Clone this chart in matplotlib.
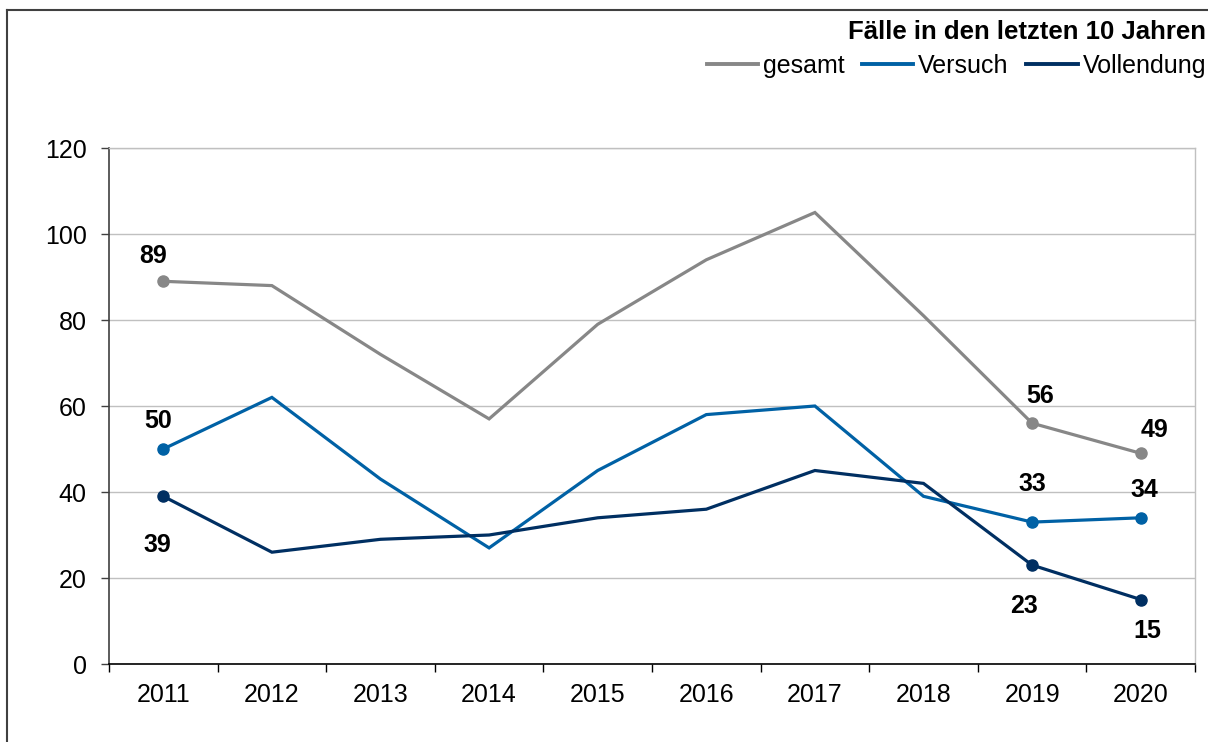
import matplotlib
matplotlib.use("Agg")
import matplotlib.pyplot as plt
from matplotlib.lines import Line2D

plt.rcParams['font.family'] = ['Liberation Sans', 'DejaVu Sans']

years = ["2011", "2012", "2013", "2014", "2015", "2016", "2017", "2018", "2019", "2020"]
gesamt = [89, 88, 72, 57, 79, 94, 105, 81, 56, 49]
versuch = [50, 62, 43, 27, 45, 58, 60, 39, 33, 34]
vollendung = [39, 26, 29, 30, 34, 36, 45, 42, 23, 15]

c_ges = "#878787"
c_ver = "#0061a5"
c_vol = "#002f62"

FS = 18

fig = plt.figure(figsize=(12.08, 7.42), dpi=100)
W, H = 1208, 742
ax = fig.add_axes([109 / W, 1 - 664 / H, (1195 - 109) / W, (664 - 148) / H])

x = list(range(len(years)))
mark_idx = [0, 8, 9]
for vals, col in [(gesamt, c_ges), (versuch, c_ver), (vollendung, c_vol)]:
    ax.plot(x, vals, color=col, lw=2.3, zorder=3, solid_joinstyle='miter')
    ax.plot([x[i] for i in mark_idx], [vals[i] for i in mark_idx], 'o', color=col,
            ms=8, zorder=4)

ax.set_xlim(-0.5, 9.5)
ax.set_ylim(0, 120)
ax.set_yticks(range(0, 121, 20))
ax.set_xticks(x)
ax.set_xticklabels(years)
ax.set_xticks([i - 0.5 for i in range(11)], minor=True)
ax.tick_params(axis='x', which='major', length=0, pad=14, labelsize=FS)
ax.tick_params(axis='x', which='minor', length=6, width=1, direction='out', color='black')
ax.tick_params(axis='y', length=6, width=1, direction='out', pad=10, labelsize=FS,
               color='#404040')
ax.grid(axis='y', color='#c0c0c0', lw=1)
ax.set_axisbelow(True)
for s in ['top', 'right']:
    ax.spines[s].set_color('#c0c0c0')
    ax.spines[s].set_linewidth(1)
ax.spines['left'].set_color('#404040')
ax.spines['bottom'].set_color('black')
ax.spines['left'].set_linewidth(1.2)
ax.spines['bottom'].set_linewidth(1.2)

# data labels (offsets in pixels)
labels = [
    (gesamt, 0, -10, 25), (versuch, 0, -5, 28), (vollendung, 0, -6, -49),
    (gesamt, 8, 8, 27), (gesamt, 9, 14, 23),
    (versuch, 8, 0, 38), (versuch, 9, 4, 28),
    (vollendung, 8, -8, -41), (vollendung, 9, 7, -32),
]
for vals, i, dx, dy in labels:
    ax.annotate(str(vals[i]), (x[i], vals[i]), xytext=(dx, dy), textcoords='offset pixels',
                ha='center', va='center', fontsize=FS, fontweight='bold', color='black')

# title and legend
fig.text(1206 / W, 1 - 32 / H, "Fälle in den letzten 10 Jahren", ha='right', va='center',
         fontsize=18.5, fontweight='bold')
handles = [Line2D([], [], color=c, lw=2.8) for c in (c_ges, c_ver, c_vol)]
fig.legend(handles, ["gesamt", "Versuch", "Vollendung"], loc='center right',
           bbox_to_anchor=(1216 / W, 1 - 66 / H), ncol=3, frameon=False, fontsize=FS,
           handlelength=2.05, handletextpad=0.2, columnspacing=0.7, borderaxespad=0)

# outer frame (top and left visible)
fig.add_artist(Line2D([7 / W, 7 / W], [0, 1 - 10 / H], transform=fig.transFigure,
                      color='#404040', lw=1.5))
fig.add_artist(Line2D([7 / W, 1], [1 - 10 / H, 1 - 10 / H], transform=fig.transFigure,
                      color='#404040', lw=1.5))

fig.savefig("out.png", dpi=100)
